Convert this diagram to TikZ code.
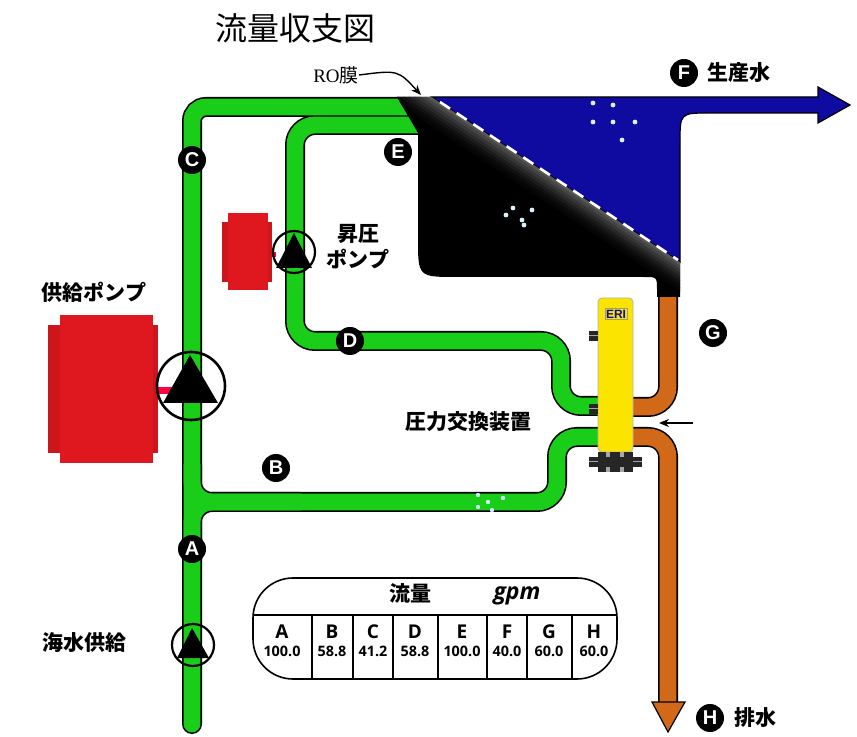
\documentclass[tikz,border=0pt]{standalone}
\usepackage{fontspec}
\setmainfont{Liberation Sans}
\newfontfamily\jp{Noto Sans CJK JP}
\newfontfamily\romfont{Liberation Serif}
\newfontfamily\tabfont{Open Sans}
\usetikzlibrary{arrows.meta}
\definecolor{pipegreen}{RGB}{25,205,25}
\definecolor{permblue}{RGB}{15,10,160}
\definecolor{brine}{RGB}{210,105,25}
\definecolor{motorred}{RGB}{222,24,30}
\definecolor{eriyellow}{RGB}{250,228,0}

\begin{document}
\begin{tikzpicture}[x=0.5pt,y=-0.5pt,>={Stealth[length=5pt,width=4pt]},
tag/.style={circle,fill=black,text=white,inner sep=0pt,minimum size=14pt,font=\bfseries\fontsize{10}{10}\selectfont},
jlabel/.style={font=\jp\bfseries\fontsize{10.5}{13}\selectfont,inner sep=0pt},
pumpring/.style={circle,draw=black,inner sep=0pt,line width=1.1pt},
cellhead/.style={font=\tabfont\bfseries\fontsize{9.5}{10}\selectfont,inner sep=0pt},
cellval/.style={font=\tabfont\bfseries\fontsize{7.2}{8}\selectfont,inner sep=0pt}]
\useasboundingbox (0,0) rectangle (857,737);

% pipes: black shell first, then the fill
\foreach \w/\c in {10pt/black,8.4pt/pipegreen}{
  \draw[line width=\w,draw=\c,rounded corners=7pt,line cap=round] (192,724) -- (192,107) -- (420,107);
  \draw[line width=\w,draw=\c,rounded corners=10pt,line cap=round] (420,125) -- (295,125) -- (295,341) -- (561,341) -- (561,406) -- (600,406);
  \draw[line width=\w,draw=\c,rounded corners=10pt,line cap=round] (192,465) -- (192,502) -- (557,502) -- (557,437) -- (600,437);
  \draw[line width=\w,draw=\c,rounded corners=10pt,line cap=round] (192,540) -- (192,502) -- (300,502);
}
\foreach \w/\c in {10pt/black,8.4pt/brine}{
  \draw[line width=\w,draw=\c,rounded corners=10pt] (668,280) -- (668,407) -- (630,407);
  \draw[line width=\w,draw=\c,rounded corners=10pt] (630,437) -- (668,437) -- (668,705);
}
\draw[fill=brine,line width=0.6pt] (652,702) -- (685,702) -- (668,732) -- cycle;
\foreach \x/\y in {478/495,488/502,478/507,492/510,503/498}
  \fill[white!80!cyan] (\x,\y) circle (1.1pt);

% membrane vessel
\draw[fill=permblue,line width=0.6pt] (432,97) -- (818,97) -- (818,87) -- (850,105) -- (818,123) -- (818,113) -- (710,113) .. controls (680,113) .. (680,143) -- (680,262) -- cycle;
\fill[black] (397,97) -- (432,97) -- (680,262) -- (680,297) -- (657,297) -- (657,290) .. controls (657,277) .. (644,277) -- (457,277) .. controls (418,277) .. (418,238) -- (418,133) -- cycle;
\begin{scope}
  \clip (397,97) -- (432,97) -- (680,262) -- (680,297) -- (657,297) -- (657,277) -- (418,277) -- (418,133) -- cycle;
  \foreach \d/\g in {2/34,5/27,8/21,11/16,14/11,17/7,20/4,23/2}
    \draw[line width=1.7pt,white!\g!black,shift={(-0.554*\d,0.832*\d)}] (402,77) -- (712,283);
\end{scope}
\draw[white,line width=1.3pt,dash pattern=on 6pt off 4pt] (440,102) -- (678,260);
\foreach \x/\y in {593/103,613/105,593/122,613/122,635/122,622/140,513/208,532/210,506/215,522/220,524/225}
  \fill[white!85!cyan] (\x,\y) circle (1.2pt);

% pressure exchanger
\draw[fill=eriyellow,draw=black!30,line width=0.4pt,rounded corners=2pt] (598,298) rectangle (633,452);
\node[draw=black!40,line width=0.3pt,inner sep=0.6pt,text=permblue,font=\bfseries\fontsize{6}{6}\selectfont] (eri) at (616,314) {ERI};
\foreach \y in {336,409}{
  \fill[black!85] (589,\y-5) rectangle (598,\y+5);
  \draw[black!35,line width=0.5pt] (589,\y) -- (598,\y);
}
\fill[black!85] (598,452) rectangle (633,472);
\fill[black!35] (606,452) rectangle (610,472);
\fill[black!35] (620,452) rectangle (624,472);
\fill[black!85] (589,457) rectangle (642,467);
\draw[black!35,line width=0.5pt] (589,462) -- (598,462) (633,462) -- (642,462);

% pumps and motors
\fill[motorred] (60,315) rectangle (153,463);
\fill[motorred!92!black] (48,325) rectangle (60,453);
\fill[motorred!92!black] (153,325) rectangle (158,453);
\fill[red!75!magenta] (158,387) rectangle (174,394);
\node[pumpring,minimum size=34pt,line width=1.3pt] (feedpump) at (191,386) {};
\fill (190,355) -- (218,403) -- (163,403) -- cycle;

\fill[motorred] (228,213) rectangle (268,290);
\fill[motorred!92!black] (222,222) rectangle (228,282);
\fill[motorred!92!black] (268,222) rectangle (272,282);
\fill[red!75!magenta] (272,252) rectangle (276,257);
\node[pumpring,minimum size=21pt] (boostpump) at (294,252) {};
\fill (294,233) -- (312,268) -- (276,268) -- cycle;

\node[pumpring,minimum size=21pt] (seapump) at (193,645) {};
\fill (192,628) -- (209,658) -- (177,658) -- cycle;

% stream tags
\node[tag] (tagA) at (192,549) {A};
\node[tag] (tagB) at (276,468) {B};
\node[tag] (tagC) at (192,160) {C};
\node[tag] (tagD) at (350,341) {D};
\node[tag] (tagE) at (398,152) {E};
\node[tag] (tagF) at (684,73) {F};
\node[tag] (tagG) at (713,333) {G};
\node[tag] (tagH) at (710,718) {H};

% labels
\node[font=\jp\fontsize{16}{18}\selectfont,inner sep=0pt] (title) at (295,28) {流量収支図};
\node[inner sep=0pt,font=\fontsize{9.5}{11}\selectfont] (ro) at (336,75) {\romfont RO\jp 膜};
\coordinate (ro-tip) at (421,95);
\node[jlabel,anchor=west] (product) at (707,73) {生産水};
\node[jlabel,align=center] (boostlabel) at (358,247) {昇圧\\ポンプ};
\node[jlabel] (feedlabel) at (94,292) {供給ポンプ};
\node[jlabel,anchor=west] (erilabel) at (405,422) {圧力交換装置};
\node[jlabel] (sealabel) at (84,643) {海水供給};
\node[jlabel,anchor=west] (drain) at (734,718) {排水};
\coordinate (eri-in) at (693,423);
\coordinate (eri-side) at (659,423);
\begin{scope}[->, line width=0.7pt]
 \draw (ro.east) .. controls (398,70) .. (ro-tip);
 \draw (eri-in) -- (eri-side);
\end{scope}

% flow table
\draw[line width=0.8pt,rounded corners=20pt] (253,578) rectangle (617,679);
\draw[line width=0.8pt] (253,615) -- (617,615);
\foreach \x in {312,353,393,438,487,527,572}
  \draw[line width=0.8pt] (\x,615) -- (\x,679);
\node[jlabel] (tabletitle) at (410,593) {流量};
\node[inner sep=0pt,font=\tabfont\bfseries\itshape\fontsize{11.5}{12}\selectfont] (unit) at (517,596) {gpm};
\foreach \cx/\lt/\val in {282/A/100.0,332/B/58.8,373/C/41.2,415/D/58.8,462/E/100.0,507/F/40.0,549/G/60.0,594/H/60.0}{
  \node[cellhead] (head-\lt) at (\cx,632) {\lt};
  \node[cellval] (val-\lt) at (\cx,651) {\val};
}
\end{tikzpicture}
\end{document}
